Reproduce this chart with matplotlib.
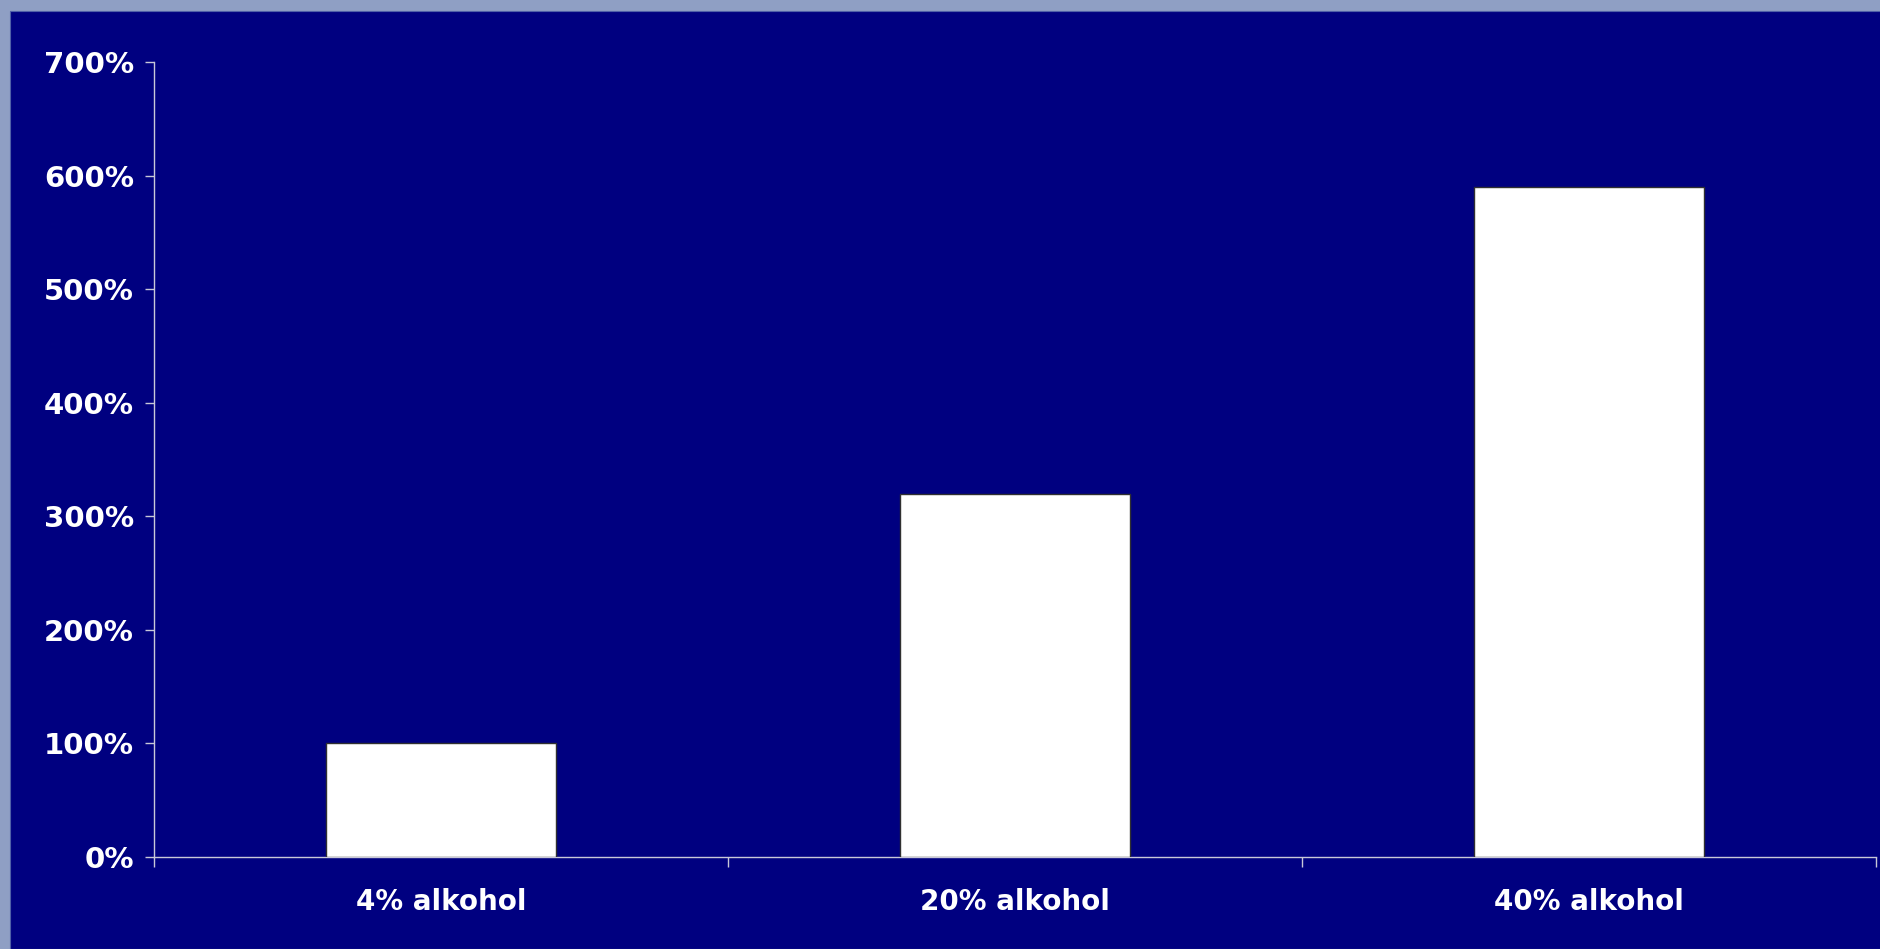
import matplotlib
matplotlib.use("Agg")
import matplotlib.pyplot as plt
from matplotlib.patches import Rectangle
from matplotlib.ticker import FuncFormatter, MultipleLocator, FixedLocator, NullFormatter

categories = ["4% alkohol", "20% alkohol", "40% alkohol"]
values = [100, 320, 590]  # percent
y_max = 700

W, H, DPI = 1881, 949, 100
fig = plt.figure(figsize=(W / DPI, H / DPI), dpi=DPI)
fig.patch.set_facecolor("#8f9fc4")

# dark slide panel
fig.add_artist(Rectangle((10 / W, 0), 1 - 10 / W, 1 - 11 / H,
                         transform=fig.transFigure, facecolor="#000080",
                         edgecolor="#5060a8", linewidth=0.8, zorder=0))

ax = fig.add_axes([154 / W, 1 - 857 / H, (1876 - 154) / W, (857 - 62) / H])
ax.set_facecolor("none")

x = range(len(categories))
ax.bar(x, values, width=0.40, color="white", edgecolor="#303030", linewidth=1.0, zorder=3)

ax.set_xlim(-0.5, len(categories) - 0.5)
ax.set_ylim(0, y_max)

axis_color = "#c8c8d8"
for side in ("top", "right"):
    ax.spines[side].set_visible(False)
for side in ("left", "bottom"):
    ax.spines[side].set_color(axis_color)
    ax.spines[side].set_linewidth(1.0)

ax.yaxis.set_major_locator(MultipleLocator(100))
ax.yaxis.set_major_formatter(FuncFormatter(lambda v, p: f"{v:.0f}%"))
ax.tick_params(axis="y", direction="out", length=6.5, width=1.0, color=axis_color,
               labelcolor="white", labelsize=21, pad=8)
for lbl in ax.get_yticklabels():
    lbl.set_fontweight("bold")

# category labels centred, tick marks on category boundaries
ax.set_xticks(list(x))
ax.set_xticklabels(categories, fontsize=20, fontweight="bold", color="white")
ax.tick_params(axis="x", which="major", length=0, pad=22)
ax.xaxis.set_minor_locator(FixedLocator([i - 0.5 for i in range(len(categories) + 1)]))
ax.xaxis.set_minor_formatter(NullFormatter())
ax.tick_params(axis="x", which="minor", direction="out", length=7, width=1.0, color=axis_color)

for t in ax.get_yticklabels() + ax.get_xticklabels():
    t.set_family("DejaVu Sans")

fig.savefig("out.png", dpi=DPI, facecolor=fig.get_facecolor())
